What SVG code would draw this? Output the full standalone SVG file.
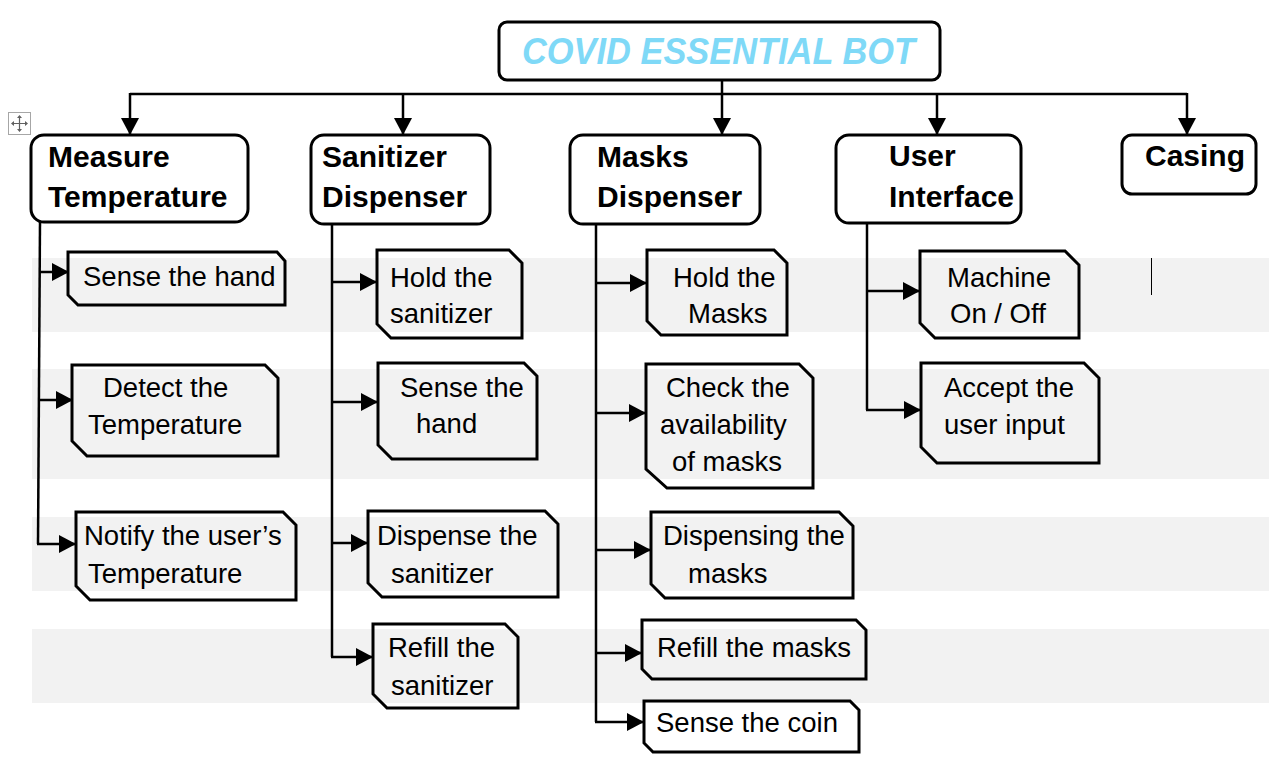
<svg xmlns="http://www.w3.org/2000/svg" width="1269" height="765" viewBox="0 0 1269 765">
<style>
.band{fill:#F2F2F2}
.hdr{fill:#fff;stroke:#000;stroke-width:3}
.task{fill:none;stroke:#000;stroke-width:3;stroke-linejoin:miter}
.h{font-family:"Liberation Sans",Arial,sans-serif;font-weight:bold;font-size:30px;fill:#000}
.t{font-family:"Liberation Sans",Arial,sans-serif;font-size:27.5px;fill:#000}
.title{font-family:"Liberation Sans",Arial,sans-serif;font-weight:bold;font-style:italic;font-size:36px;fill:#7FD9F7}
.conn{fill:none;stroke:#000;stroke-width:2.5}
</style>
<defs>
<marker id="arr" markerUnits="userSpaceOnUse" markerWidth="18" markerHeight="18" refX="17" refY="9" orient="auto">
<path d="M0,0 L17,9 L0,18 z" fill="#000"/>
</marker>
</defs>
<rect width="1269" height="765" fill="#fff"/>
<g id="bands">
<rect class="band" x="32" y="258" width="1237" height="74"/>
<rect class="band" x="32" y="369" width="1237" height="110"/>
<rect class="band" x="32" y="517" width="1237" height="74"/>
<rect class="band" x="32" y="629" width="1237" height="74"/>
</g>
<g id="move-icon">
<rect x="8.5" y="112.5" width="22" height="22" fill="#fff" stroke="#A6A6A6" stroke-width="1"/>
<path d="M19.5,116 V131 M12,123.5 H27" stroke="#606060" stroke-width="1.2"/>
<path d="M19.5,115 l-2.5,3 h5 z M19.5,132 l-2.5,-3 h5 z M11,123.5 l3,-2.5 v5 z M28,123.5 l-3,-2.5 v5 z" fill="#606060"/>
</g>
<line x1="1151.5" y1="258" x2="1151.5" y2="295" stroke="#000" stroke-width="1"/>
<g id="connectors">
<path class="conn" d="M130,94 H1187"/>
<path class="conn" d="M722,80 V135" marker-end="url(#arr)"/>
<path class="conn" d="M130,93 V135" marker-end="url(#arr)"/>
<path class="conn" d="M403,94 V135" marker-end="url(#arr)"/>
<path class="conn" d="M937,94 V135" marker-end="url(#arr)"/>
<path class="conn" d="M1187,93 V135" marker-end="url(#arr)"/>
<path class="conn" d="M40,222 L38,544"/>
<path class="conn" d="M40,272 H69" marker-end="url(#arr)"/>
<path class="conn" d="M39,400 H73" marker-end="url(#arr)"/>
<path class="conn" d="M37,544 H76" marker-end="url(#arr)"/>
<path class="conn" d="M332,224 V657"/>
<path class="conn" d="M331,282 H377" marker-end="url(#arr)"/>
<path class="conn" d="M331,402 H378" marker-end="url(#arr)"/>
<path class="conn" d="M331,543 H368" marker-end="url(#arr)"/>
<path class="conn" d="M331,657 H373" marker-end="url(#arr)"/>
<path class="conn" d="M596,224 V722"/>
<path class="conn" d="M595,283 H647" marker-end="url(#arr)"/>
<path class="conn" d="M595,413 H646" marker-end="url(#arr)"/>
<path class="conn" d="M595,550 H651" marker-end="url(#arr)"/>
<path class="conn" d="M595,653 H642" marker-end="url(#arr)"/>
<path class="conn" d="M595,722 H644" marker-end="url(#arr)"/>
<path class="conn" d="M867,223 V410"/>
<path class="conn" d="M866,291 H920" marker-end="url(#arr)"/>
<path class="conn" d="M866,410 H921" marker-end="url(#arr)"/>
</g>
<g id="title">
<rect class="hdr" x="499" y="22" width="441" height="58" rx="8"/>
<text class="title" x="522" y="64" textLength="393" lengthAdjust="spacingAndGlyphs">COVID ESSENTIAL BOT</text>
</g>
<g id="measure-temperature">
<rect class="hdr" x="31" y="135" width="217" height="87" rx="13"/>
<text class="h" x="48" y="167">Measure</text>
<text class="h" x="48" y="207">Temperature</text>
</g>
<g id="sanitizer-dispenser">
<rect class="hdr" x="311" y="135" width="179" height="89" rx="13"/>
<text class="h" x="322" y="167">Sanitizer</text>
<text class="h" x="322" y="207">Dispenser</text>
</g>
<g id="masks-dispenser">
<rect class="hdr" x="570" y="135" width="190" height="89" rx="13"/>
<text class="h" x="597" y="167">Masks</text>
<text class="h" x="597" y="207">Dispenser</text>
</g>
<g id="user-interface">
<rect class="hdr" x="836" y="135" width="185" height="88" rx="13"/>
<text class="h" x="889" y="166">User</text>
<text class="h" x="889" y="207">Interface</text>
</g>
<g id="casing">
<rect class="hdr" x="1122" y="135" width="134" height="59" rx="10"/>
<text class="h" x="1145" y="166">Casing</text>
</g>
<g id="mt-sense-hand">
<path class="task" d="M68,252 H277 L285,261 V305 H78 L68,295 Z"/>
<text class="t" x="83" y="286">Sense the hand</text>
</g>
<g id="mt-detect">
<path class="task" d="M72,365 H265 L278,378 V456 H87 L72,441 Z"/>
<text class="t" x="103" y="397">Detect the</text>
<text class="t" x="88" y="434">Temperature</text>
</g>
<g id="mt-notify">
<path class="task" d="M76,512 H283 L296,525 V600 H90 L76,586 Z"/>
<text class="t" x="84" y="545">Notify the user’s</text>
<text class="t" x="88" y="583">Temperature</text>
</g>
<g id="sd-hold">
<path class="task" d="M377,250 H509 L522,263 V338 H391 L377,324 Z"/>
<text class="t" x="390" y="287">Hold the</text>
<text class="t" x="390" y="323">sanitizer</text>
</g>
<g id="sd-sense">
<path class="task" d="M378,363 H524 L537,376 V459 H392 L378,445 Z"/>
<text class="t" x="400" y="397">Sense the</text>
<text class="t" x="416" y="433">hand</text>
</g>
<g id="sd-dispense">
<path class="task" d="M368,511 H545 L558,524 V597 H382 L368,583 Z"/>
<text class="t" x="377" y="545">Dispense the</text>
<text class="t" x="391" y="583">sanitizer</text>
</g>
<g id="sd-refill">
<path class="task" d="M373,624 H505 L518,637 V708 H387 L373,694 Z"/>
<text class="t" x="388" y="657">Refill the</text>
<text class="t" x="391" y="695">sanitizer</text>
</g>
<g id="md-hold">
<path class="task" d="M647,250 H774 L787,263 V335 H661 L647,321 Z"/>
<text class="t" x="673" y="287">Hold the</text>
<text class="t" x="688" y="323">Masks</text>
</g>
<g id="md-check">
<path class="task" d="M646,364 H799 L813,378 V488 H667 L646,469 Z"/>
<text class="t" x="666" y="397">Check the</text>
<text class="t" x="660" y="434">availability</text>
<text class="t" x="672" y="471">of masks</text>
</g>
<g id="md-dispensing">
<path class="task" d="M651,512 H839 L853,526 V598 H665 L651,584 Z"/>
<text class="t" x="663" y="545">Dispensing the</text>
<text class="t" x="688" y="583">masks</text>
</g>
<g id="md-refill">
<path class="task" d="M642,620 H856 L866,630 V679 H652 L642,669 Z"/>
<text class="t" x="657" y="657">Refill the masks</text>
</g>
<g id="md-coin">
<path class="task" d="M644,701 H850 L859,710 V752 H653 L644,743 Z"/>
<text class="t" x="656" y="732">Sense the coin</text>
</g>
<g id="ui-machine">
<path class="task" d="M920,251 H1065 L1079,265 V338 H935 L920,323 Z"/>
<text class="t" x="947" y="287">Machine</text>
<text class="t" x="950" y="323">On / Off</text>
</g>
<g id="ui-accept">
<path class="task" d="M921,363 H1084 L1099,378 V463 H937 L921,447 Z"/>
<text class="t" x="944" y="397">Accept the</text>
<text class="t" x="944" y="434">user input</text>
</g>
</svg>
